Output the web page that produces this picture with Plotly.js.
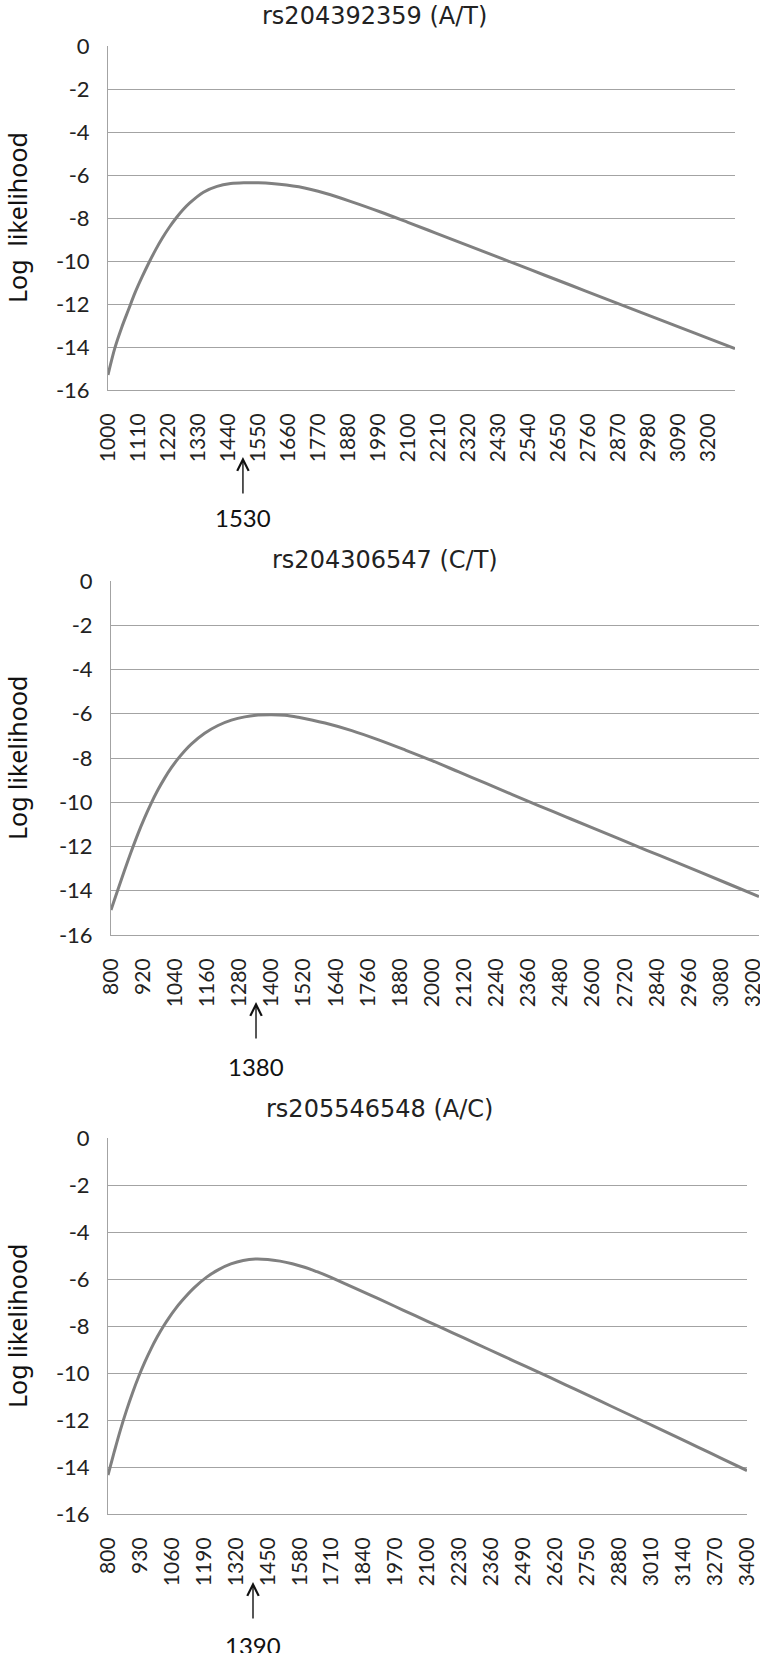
<!DOCTYPE html>
<html>
<head>
<meta charset="utf-8">
<script src="https://cdn.plot.ly/plotly-3.0.1.min.js"></script>
<style>
  body { margin: 0; background: #fff; }
  #chart { width: 760px; height: 1653px; }
</style>
</head>
<body>
<div id="chart"></div>
<script>
// rs204392359 (A/T)
var x1 = [1000, 1025, 1050, 1075, 1100, 1125, 1150, 1175, 1200, 1225, 1250, 1275, 1300, 1350, 1400, 1450,
          1500, 1550, 1600, 1700, 1800, 1900, 2000, 2100, 2200, 2300, 2400, 2500, 2600, 2700, 2800,
          2900, 3000, 3100, 3200, 3300];
var y1 = [-15.3, -14.05, -13.1, -12.27, -11.45, -10.74, -10.08, -9.47, -8.92, -8.43, -8.0, -7.62, -7.3, -6.8, -6.53, -6.4,
          -6.36, -6.36, -6.39, -6.55, -6.86, -7.27, -7.72, -8.2, -8.69, -9.18, -9.67, -10.16, -10.65, -11.14, -11.63,
          -12.12, -12.61, -13.1, -13.59, -14.08];
var ticks1 = [1000, 1110, 1220, 1330, 1440, 1550, 1660, 1770, 1880, 1990, 2100,
              2210, 2320, 2430, 2540, 2650, 2760, 2870, 2980, 3090, 3200];

// rs204306547 (C/T)
var x2 = [800, 825, 850, 875, 900, 925, 950, 975, 1000, 1025, 1050, 1075, 1100, 1150, 1200, 1250,
          1300, 1350, 1400, 1450, 1500, 1550, 1600, 1700, 1800, 1900, 2000, 2100, 2200, 2300, 2400,
          2500, 2600, 2700, 2800, 2900, 3000, 3100, 3200, 3222];
var y2 = [-14.87, -13.98, -13.1, -12.25, -11.45, -10.72, -10.05, -9.45, -8.92, -8.45, -8.04, -7.68, -7.37, -6.88, -6.53, -6.29,
          -6.14, -6.06, -6.04, -6.07, -6.16, -6.28, -6.42, -6.76, -7.18, -7.64, -8.12, -8.63, -9.14, -9.65, -10.16,
          -10.66, -11.16, -11.66, -12.16, -12.65, -13.15, -13.65, -14.15, -14.26];
var ticks2 = [800, 920, 1040, 1160, 1280, 1400, 1520, 1640, 1760, 1880, 2000,
              2120, 2240, 2360, 2480, 2600, 2720, 2840, 2960, 3080, 3200];

// rs205546548 (A/C)
var x3 = [800, 825, 850, 875, 900, 925, 950, 975, 1000, 1025, 1050, 1075, 1100, 1150, 1200, 1250,
          1300, 1350, 1400, 1450, 1500, 1550, 1600, 1650, 1700, 1750, 1800, 1900, 2000, 2100, 2200,
          2300, 2400, 2500, 2600, 2700, 2800, 2900, 3000, 3100, 3200, 3300, 3400];
var y3 = [-14.34, -13.37, -12.44, -11.6, -10.84, -10.15, -9.53, -8.97, -8.47, -8.02, -7.62, -7.26, -6.94, -6.38, -5.93, -5.6,
          -5.36, -5.21, -5.15, -5.17, -5.24, -5.35, -5.5, -5.69, -5.9, -6.13, -6.37, -6.84, -7.32, -7.8, -8.28,
          -8.76, -9.24, -9.72, -10.2, -10.69, -11.18, -11.67, -12.16, -12.65, -13.15, -13.65, -14.15];
var ticks3 = [800, 930, 1060, 1190, 1320, 1450, 1580, 1710, 1840, 1970, 2100,
              2230, 2360, 2490, 2620, 2750, 2880, 3010, 3140, 3270, 3400];

var titles = ['rs204392359 (A/T)', 'rs204306547 (C/T)', 'rs205546548 (A/C)'];
var yTitles = ['Log\u00a0 likelihood', 'Log likelihood', 'Log likelihood'];
var peakLabels = ['1530', '1380', '1390'];
var arrowX = [1495, 1342, 1390];
var xRanges = [[1000, 3300], [800, 3222], [800, 3400]];
var yTicks = [0, -2, -4, -6, -8, -10, -12, -14, -16];
var yTickText = ['0', '-2', '-4', '-6', '-8', '-10', '-12', '-14', '-16'];

var W = 760, H = 1653;
// plot boxes in page pixels: left, right, top, bottom
var boxes = [[108, 735, 46, 390], [111, 759, 581, 935], [108, 747, 1138, 1514]];
var titleY = [16, 560, 1109];
var titleX = [374, 385, 379];

var lineColor = '#808080';
var gridColor = '#a3a3a3';
var font = 'Lato, "Open Sans", sans-serif';

var xs = [x1, x2, x3], ys = [y1, y2, y3], tks = [ticks1, ticks2, ticks3];
var data = [];
var layout = {
  width: W, height: H,
  margin: {l: 0, r: 0, t: 0, b: 0},
  paper_bgcolor: '#fff', plot_bgcolor: '#fff',
  showlegend: false,
  font: {family: font, size: 20, color: '#222'},
  annotations: []
};

function py(p) { return 1 - p / H; }

for (var i = 0; i < 3; i++) {
  var n = i === 0 ? '' : String(i + 1);
  var b = boxes[i];
  data.push({
    x: xs[i], y: ys[i],
    xaxis: 'x' + n, yaxis: 'y' + n,
    type: 'scatter', mode: 'lines',
    line: {color: lineColor, width: 3, shape: 'spline', smoothing: 1},
    hoverinfo: 'x+y'
  });
  layout['xaxis' + n] = {
    domain: [b[0] / W, b[1] / W],
    anchor: 'y' + n,
    range: xRanges[i],
    tickmode: 'array', tickvals: tks[i], ticktext: tks[i].map(String),
    tickangle: -90,
    ticks: '', ticklabelstandoff: 14, ticklabeloverflow: 'allow',
    showgrid: false, zeroline: false,
    showline: true, linecolor: gridColor, linewidth: 1,
    tickfont: {family: font, size: 21, color: '#222'}
  };
  layout['yaxis' + n] = {
    domain: [py(b[3]), py(b[2])],
    anchor: 'x' + n,
    range: [-16, 0],
    tickmode: 'array', tickvals: yTicks, ticktext: yTickText,
    ticks: '', ticklabelstandoff: 13,
    showgrid: true, gridcolor: gridColor, gridwidth: 1,
    zeroline: false,
    showline: true, linecolor: gridColor, linewidth: 1,
    tickfont: {family: font, size: 22, color: '#222'}
  };
  // chart title
  layout.annotations.push({
    text: titles[i], xref: 'paper', yref: 'paper',
    x: titleX[i] / W, y: py(titleY[i]), xanchor: 'center', yanchor: 'middle',
    showarrow: false, font: {family: '"DejaVu Sans", sans-serif', size: 24, color: '#222'}
  });
  // y axis title
  layout.annotations.push({
    text: yTitles[i], xref: 'paper', yref: 'paper', textangle: -90,
    x: 17 / W, y: py((b[2] + b[3]) / 2), xanchor: 'center', yanchor: 'middle',
    showarrow: false, font: {family: '"Noto Sans", sans-serif', size: 25, color: '#111'}
  });
}

// peak arrows and labels under the x axes
var arrowTip = [457, 1002, 1582];
var labelY = [518, 1066, 1645];
for (var j = 0; j < 3; j++) {
  var m = j === 0 ? '' : String(j + 1);
  layout.annotations.push({
    text: '', xref: 'x' + m, yref: 'paper',
    x: arrowX[j], y: py(arrowTip[j]),
    showarrow: true, arrowhead: 5, arrowsize: 1.6, arrowwidth: 1.4, arrowcolor: '#111',
    ax: 0, ay: 38
  });
  layout.annotations.push({
    text: peakLabels[j], xref: 'x' + m, yref: 'paper',
    x: arrowX[j], y: py(labelY[j]), xanchor: 'center', yanchor: 'middle',
    showarrow: false, font: {family: font, size: 24, color: '#111'}
  });
}

Plotly.newPlot('chart', data, layout, {staticPlot: true});
</script>
</body>
</html>
